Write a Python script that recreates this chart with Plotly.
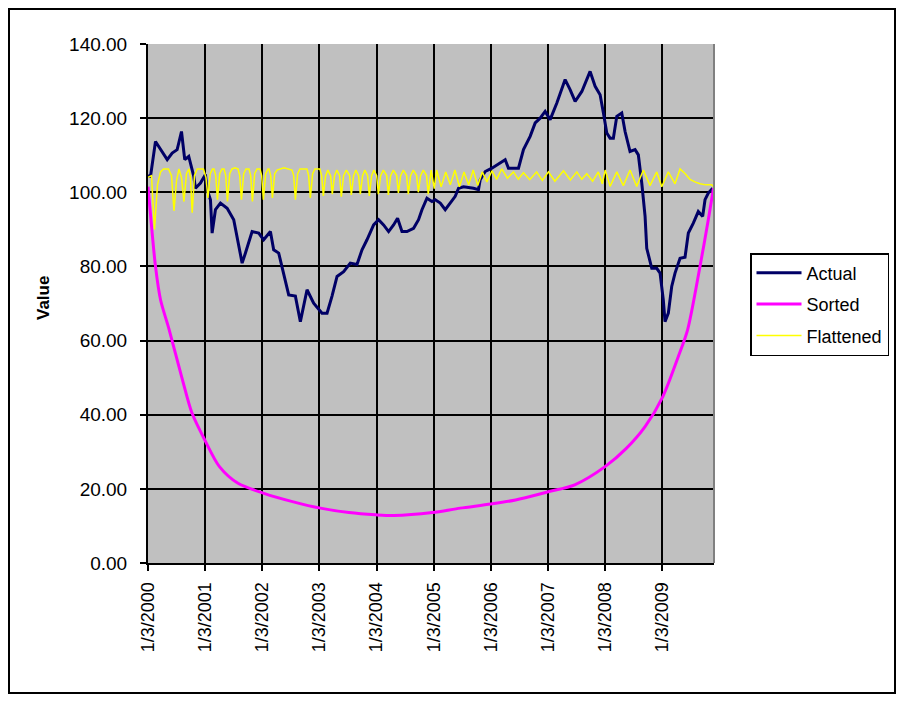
import plotly.graph_objects as go

# x values are decimal years counted from 1/3/2000 (2000.0 = 1/3/2000)
tick_years = [2000, 2001, 2002, 2003, 2004, 2005, 2006, 2007, 2008, 2009]
tick_labels = ["1/3/2000", "1/3/2001", "1/3/2002", "1/3/2003", "1/3/2004",
               "1/3/2005", "1/3/2006", "1/3/2007", "1/3/2008", "1/3/2009"]

actual_yr = [2000.000, 2000.044, 2000.131, 2000.219, 2000.336, 2000.423, 2000.510, 2000.538,
             2000.586, 2000.643, 2000.713, 2000.801, 2000.830, 2000.918, 2001.005, 2001.035,
             2001.093, 2001.122, 2001.180, 2001.268, 2001.385, 2001.500, 2001.647, 2001.705,
             2001.822, 2001.937, 2002.024, 2002.142, 2002.199, 2002.287, 2002.374, 2002.462,
             2002.579, 2002.666, 2002.783, 2002.899, 2003.045, 2003.133, 2003.220, 2003.308,
             2003.423, 2003.540, 2003.657, 2003.745, 2003.832, 2003.948, 2004.035, 2004.122,
             2004.210, 2004.297, 2004.367, 2004.444, 2004.531, 2004.647, 2004.734, 2004.794,
             2004.881, 2004.969, 2005.026, 2005.114, 2005.201, 2005.289, 2005.376, 2005.434,
             2005.521, 2005.696, 2005.783, 2005.813, 2005.900, 2006.017, 2006.105, 2006.192,
             2006.250, 2006.308, 2006.483, 2006.570, 2006.687, 2006.775, 2006.862, 2006.949,
             2007.037, 2007.154, 2007.299, 2007.386, 2007.474, 2007.591, 2007.736, 2007.824,
             2007.911, 2007.969, 2008.028, 2008.086, 2008.143, 2008.203, 2008.290, 2008.348,
             2008.435, 2008.523, 2008.580, 2008.640, 2008.698, 2008.727, 2008.815, 2008.902,
             2008.960, 2009.017, 2009.047, 2009.105, 2009.164, 2009.222, 2009.310, 2009.397,
             2009.455, 2009.542, 2009.629, 2009.706, 2009.747, 2009.804, 2009.881]
actual_val = [104.5, 104.3, 113.7, 111.5, 108.8, 110.6, 111.5, 113.3,
              116.4, 108.8, 109.7, 104.3, 101.1, 102.5, 104.8, 100.7,
              98.0, 89.0, 95.3, 97.1, 95.7, 92.6, 80.9, 83.6,
              89.4, 89.0, 87.2, 89.4, 84.5, 83.6, 78.2, 72.3,
              72.0, 65.1, 73.7, 70.1, 67.4, 67.4, 72.0, 77.3,
              78.6, 80.9, 80.5, 84.5, 87.2, 91.2, 92.6, 91.2,
              89.4, 91.2, 93.0, 89.4, 89.4, 90.3, 92.6, 95.3,
              98.4, 97.5, 98.0, 97.1, 95.3, 97.1, 98.9, 101.1,
              101.5, 101.1, 100.7, 103.4, 105.6, 106.5, 107.4, 108.3,
              108.8, 106.5, 106.5, 111.5, 115.1, 118.7, 120.0, 121.8,
              119.6, 124.1, 130.4, 127.7, 124.5, 127.2, 132.6, 128.6,
              126.3, 121.4, 116.0, 114.6, 114.6, 120.5, 121.4, 116.4,
              111.0, 111.5, 110.1, 102.5, 93.5, 84.9, 79.5, 79.5,
              78.2, 71.0, 65.1, 67.4, 74.6, 78.2, 82.2, 82.5,
              89.0, 91.7, 94.8, 93.5, 98.0, 99.8, 101.1]

sorted_yr = [2000.000, 2000.073, 2000.131, 2000.219, 2000.364, 2000.603, 2000.766, 2000.993,
             2001.250, 2001.575, 2002.028, 2002.544, 2003.016, 2003.517, 2003.984, 2004.300,
             2004.974, 2005.463, 2005.998, 2006.432, 2007.002, 2007.467, 2007.998, 2008.374,
             2008.698, 2009.009, 2009.280, 2009.442, 2009.659, 2009.804, 2009.895]
sorted_val = [101.5, 89.0, 80.0, 71.0, 63.3, 49.4, 40.6, 33.2,
              26.0, 21.5, 18.8, 16.5, 14.8, 13.6, 13.0, 12.8,
              13.6, 14.8, 15.9, 17.0, 19.2, 21.1, 26.0, 31.0,
              36.8, 44.9, 55.7, 62.9, 80.0, 92.6, 101.1]

flat_yr = [2000.000, 2000.061, 2000.114, 2000.166, 2000.219, 2000.271, 2000.358, 2000.411,
           2000.455, 2000.498, 2000.542, 2000.586, 2000.629, 2000.673, 2000.717, 2000.743,
           2000.773, 2000.813, 2000.860, 2000.970, 2001.014, 2001.049,
           2001.089, 2001.129, 2001.155, 2001.185, 2001.215,
           2001.255, 2001.295, 2001.330, 2001.360, 2001.390,
           2001.430, 2001.470, 2001.520, 2001.575, 2001.605, 2001.635,
           2001.675, 2001.715, 2001.767, 2001.797, 2001.827,
           2001.867, 2001.907, 2001.959, 2001.989, 2002.019,
           2002.059, 2002.099, 2002.117, 2002.147, 2002.177,
           2002.217, 2002.257, 2002.380, 2002.519, 2002.549, 2002.579,
           2002.619, 2002.659, 2002.781, 2002.811, 2002.841,
           2002.881, 2002.921, 2003.008, 2003.038, 2003.068,
           2003.108, 2003.147, 2003.195, 2003.225,
           2003.265, 2003.304, 2003.353, 2003.383,
           2003.423, 2003.470, 2003.528, 2003.558,
           2003.598, 2003.637, 2003.685, 2003.715,
           2003.755, 2003.794, 2003.843, 2003.873,
           2003.913, 2003.952, 2004.001, 2004.031,
           2004.071, 2004.118, 2004.176, 2004.206,
           2004.246, 2004.293, 2004.351, 2004.381,
           2004.421, 2004.468, 2004.525, 2004.555,
           2004.595, 2004.642, 2004.700, 2004.730,
           2004.770, 2004.817, 2004.874, 2004.904,
           2004.955, 2005.009,
           2005.050, 2005.130, 2005.210, 2005.290, 2005.370, 2005.450, 2005.530, 2005.610,
           2005.690, 2005.770, 2005.850, 2005.930,
           2006.020, 2006.100, 2006.190, 2006.290, 2006.395, 2006.480, 2006.570, 2006.680,
           2006.800, 2006.900, 2007.007,
           2007.120, 2007.270, 2007.390, 2007.503, 2007.590, 2007.678, 2007.780, 2007.880,
           2007.950, 2008.000,
           2008.086, 2008.203, 2008.318, 2008.435, 2008.552, 2008.668, 2008.785, 2008.902,
           2008.990,
           2009.105, 2009.222, 2009.310, 2009.400, 2009.484, 2009.570, 2009.659, 2009.760,
           2009.863, 2009.900]
flat_val = [104.0, 104.5, 90.0, 102.0, 105.5, 106.3, 106.3, 104.5,
            95.0, 103.0, 106.3, 104.0, 97.5, 105.0, 106.3, 104.0,
            94.5, 104.5, 106.3, 106.3, 104.0, 98.5,
            105.0, 106.3, 106.3, 104.5, 98.0,
            105.0, 106.3, 106.3, 104.5, 97.5,
            105.0, 106.3, 106.6, 106.3, 104.5, 98.0,
            105.0, 106.3, 106.3, 104.5, 97.5,
            105.0, 106.3, 106.3, 104.5, 98.0,
            105.0, 106.3, 106.3, 104.5, 98.5,
            105.0, 106.0, 106.6, 106.0, 104.5, 98.0,
            105.0, 106.3, 106.3, 104.5, 98.5,
            105.0, 106.3, 106.3, 104.5, 99.0,
            104.5, 106.0, 104.5, 99.5,
            104.5, 106.0, 104.5, 98.8,
            104.5, 106.0, 104.5, 99.3,
            104.5, 106.0, 104.5, 99.5,
            104.5, 106.0, 104.5, 99.0,
            104.5, 106.0, 104.5, 99.5,
            104.5, 106.0, 104.5, 99.3,
            104.5, 106.0, 104.5, 99.8,
            104.5, 106.0, 104.5, 99.5,
            104.5, 106.0, 104.5, 100.0,
            104.5, 106.0, 104.5, 99.5,
            106.0, 101.0,
            106.0, 101.5, 105.5, 102.0, 106.0, 101.5, 105.5, 102.0,
            106.0, 101.8, 105.5, 102.8,
            105.8, 103.5, 106.3, 103.8, 105.5, 103.5, 105.3, 103.4,
            105.5, 103.2, 105.5,
            103.0, 105.8, 103.3, 105.5, 103.5, 105.0, 103.0, 105.5,
            102.3, 106.0,
            101.6, 105.5, 101.8, 106.0, 101.6, 106.0, 101.8, 105.5,
            101.5,
            105.5, 102.3, 106.3, 105.0, 103.5, 102.8, 102.3, 102.0,
            102.0, 101.5]

font = "Liberation Sans, Arial, sans-serif"

fig = go.Figure()
fig.add_trace(go.Scatter(x=actual_yr, y=actual_val, mode="lines", name="Actual",
                         legendgroup="a", line=dict(color="#000066", width=3)))
fig.add_trace(go.Scatter(x=sorted_yr, y=sorted_val, mode="lines", name="Sorted",
                         legendgroup="s",
                         line=dict(color="#FF00FF", width=3, shape="spline", smoothing=0.8)))
fig.add_trace(go.Scatter(x=flat_yr, y=flat_val, mode="lines", name="Flattened",
                         legendgroup="f", line=dict(color="#FFFF00", width=1.5)))

# the page body has an 8px margin, so the figure is drawn 8px in from the window corner
OFF = 8
W, H = 907 - OFF, 702 - OFF
# plot area in window pixels: x 148..714, y 44..563
L, T = 148 - OFF, 44 - OFF
R, B = W - (714 - OFF), H - (563 - OFF)
pw, ph = W - L - R, H - T - B


def px(x):
    return (x - 148) / pw


def py(y):
    return (563 - y) / ph


fig.update_layout(
    width=W, height=H,
    margin=dict(l=L, r=R, t=T, b=B, pad=0),
    paper_bgcolor="white",
    plot_bgcolor="#C0C0C0",
    font=dict(family=font, size=18, color="black"),
    showlegend=True,
    legend=dict(x=px(750), y=py(253), xanchor="left", yanchor="top",
                bgcolor="white", bordercolor="black", borderwidth=1.5,
                font=dict(size=18), tracegroupgap=5, traceorder="grouped",
                itemwidth=45),
)

fig.update_xaxes(
    range=[2000, 2009.904], tickmode="array", tickvals=tick_years, ticktext=tick_labels,
    tickangle=-90, ticks="outside", ticklen=6, tickcolor="black", tickwidth=1.5,
    showgrid=True, gridcolor="black", gridwidth=1.5,
    showline=True, linecolor="black", linewidth=2, zeroline=False,
    tickfont=dict(size=18), ticklabelstandoff=4,
)
fig.update_yaxes(
    range=[0, 140], dtick=20, tickformat=".2f",
    ticks="outside", ticklen=6, tickcolor="black", tickwidth=1.5,
    showgrid=True, gridcolor="black", gridwidth=1.5,
    showline=True, linecolor="black", linewidth=2, zeroline=False,
    tickfont=dict(size=19), ticklabelstandoff=9,
)

# gray right edge of plot area
fig.add_shape(type="line", xref="paper", yref="paper", x0=1, x1=1, y0=0, y1=1,
              line=dict(color="#808080", width=2))
# chart border
fig.add_shape(type="rect", xref="paper", yref="paper",
              x0=px(9), x1=px(895), y0=py(693), y1=py(9),
              line=dict(color="black", width=2), fillcolor="rgba(0,0,0,0)", layer="below")

fig.add_annotation(text="<b>Value</b>", textangle=-90, xref="paper", yref="paper",
                   x=px(43), y=py(298), showarrow=False,
                   font=dict(size=17), xanchor="center", yanchor="middle")

fig.write_html("out.html")
